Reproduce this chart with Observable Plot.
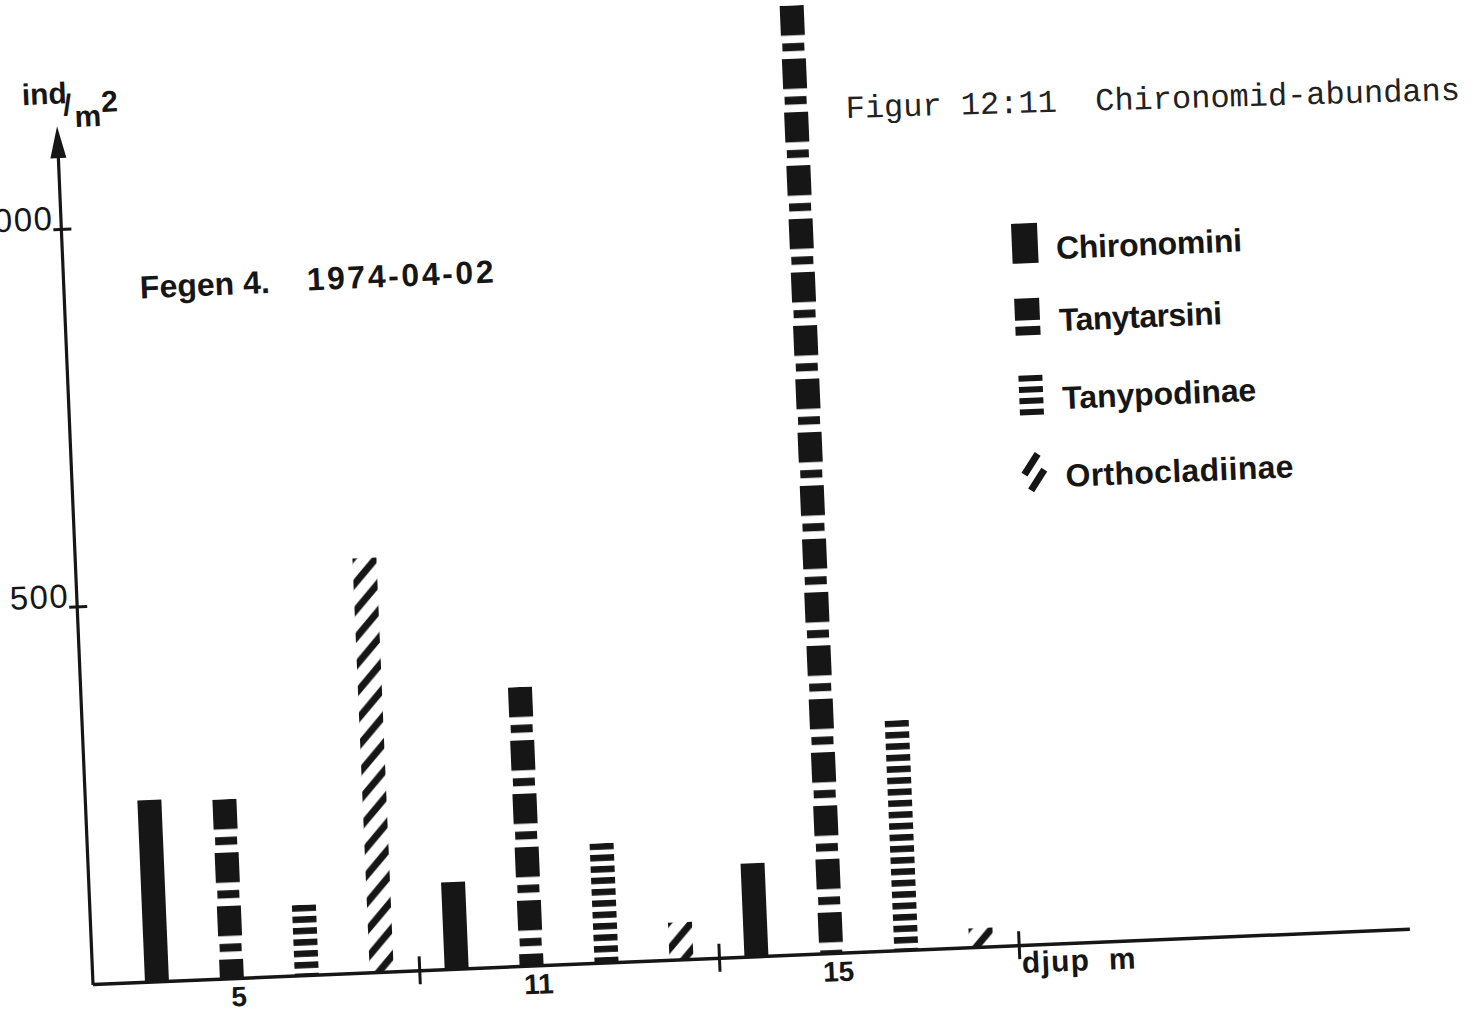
<!DOCTYPE html>
<html>
<head>
<meta charset="utf-8">
<script src="https://cdn.jsdelivr.net/npm/d3@7"></script>
<script src="https://cdn.jsdelivr.net/npm/@observablehq/plot@0.6"></script>
<style>
html, body { margin:0; padding:0; background:#fff; overflow:hidden; width:1479px; height:1011px; }
#wrap { position:absolute; left:0; top:0; width:1479px; height:1011px;
        transform-origin:93px 984px; transform:rotate(-2.4deg); }
#wrap svg { overflow:visible; max-width:none; background:transparent; }
#cap { position:absolute; left:846px; top:94px; font-family:'Liberation Mono', monospace;
       font-size:32px; line-height:32px; white-space:pre; color:#222;
       transform-origin:0 26px; transform:rotate(-1.7deg); }
</style>
</head>
<body>
<div id="wrap"></div>
<div id="cap">Figur 12:11  Chironomid-abundans</div>
<script>
// ---- data ----
const depths = ["5", "11", "15"];                 // djup m
const taxa = ["Chironomini", "Tanytarsini", "Tanypodinae", "Orthocladiinae"];
const chironomini    = [240, 115, 123];           // ind/m2
const tanytarsini    = [237, 369, 1255];
const tanypodinae    = [93, 158, 304];
const orthocladiinae = [548, 49, 25];
const yTicks = [500, 1000];
const yAxisTop = 1136;
const yMax = 1302;

const ink = "#161616";
const series = [chironomini, tanytarsini, tanypodinae, orthocladiinae];
const rows = [];
depths.forEach((d, i) => {
  taxa.forEach((t, j) => {
    rows.push({depth: d, taxon: t, key: d + "|" + t, value: series[j][i], idx: rows.length});
  });
});
const keys = rows.map(r => r.key);
const xRange = [119, 1019];
const step = (xRange[1] - xRange[0]) / keys.length;
const labelKeys = depths.map(d => d + "|Tanytarsini");
const boundKeys = depths.map(d => d + "|Orthocladiinae");

const plot = Plot.plot({
  width: 1479, height: 1011,
  marginLeft: 93, marginRight: 68, marginTop: 0, marginBottom: 27,
  style: {fontFamily: "'Liberation Sans', Arial, sans-serif", background: "transparent", overflow: "visible"},
  x: {type: "band", domain: keys, range: xRange, paddingInner: 0.68, paddingOuter: 0.34, axis: null},
  y: {domain: [0, yMax], axis: null},
  color: {type: "identity"},
  marks: [
    Plot.barY(rows, {x: "key", y: "value", fill: d => `url(#pat-${d.idx})`}),
    Plot.ruleY([0], {stroke: ink, strokeWidth: 3.5}),
    Plot.ruleX(boundKeys, {x: d => d, y1: 0, y2: 0, insetTop: -14, insetBottom: -14, dx: step / 2, stroke: ink, strokeWidth: 3}),
    Plot.axisY(yTicks, {anchor: "left", tickSize: 18, tickPadding: 0, dx: 10, fontSize: 33, color: ink, strokeWidth: 3, label: null, lineAnchor: "bottom"}),
    Plot.axisX(labelKeys, {anchor: "bottom", tickSize: 0, tickPadding: 8, dx: 6, fontSize: 28, fontWeight: "bold", color: ink, label: null, tickFormat: k => k.split("|")[0]})
  ]
});
document.getElementById("wrap").appendChild(plot);

// ---- patterns for each bar, anchored at the bar top ----
const svg = d3.select(plot);
svg.selectAll('g[aria-label="y-axis tick label"] text').attr("letter-spacing", 1.5);
const defs = svg.insert("defs", ":first-child");
svg.selectAll('g[aria-label="bar"] rect').each(function(_, i) {
  const r = d3.select(this);
  const bx = +r.attr("x"), by = +r.attr("y"), bw = +r.attr("width");
  const t = rows[i].taxon;
  const p = defs.append("pattern").attr("id", "pat-" + i).attr("patternUnits", "userSpaceOnUse")
    .attr("x", bx).attr("y", by).attr("width", bw);
  if (t === "Chironomini") {
    p.attr("height", 10);
    p.append("rect").attr("width", bw).attr("height", 10).attr("fill", ink);
  } else if (t === "Tanytarsini") {
    const P = 53.4;
    p.attr("height", P);
    p.append("rect").attr("x", 0).attr("y", 0).attr("width", bw).attr("height", 30).attr("fill", ink);
    p.append("rect").attr("x", 1).attr("y", 37.7).attr("width", bw - 2).attr("height", 8).attr("fill", ink);
  } else if (t === "Tanypodinae") {
    const P = 11.4;
    p.attr("height", P);
    p.append("rect").attr("x", 0).attr("y", 0).attr("width", bw).attr("height", 6.5).attr("fill", ink);
  } else {
    const P = 26.5, s = 1.1;
    p.attr("height", P);
    for (let k = -1; k <= 2; k++) {
      const y0 = k * P;
      p.append("line").attr("x1", -4).attr("y1", y0 + 4 * s).attr("x2", bw + 4).attr("y2", y0 - (bw + 4) * s)
        .attr("stroke", ink).attr("stroke-width", 7);
    }
  }
});

// ---- y axis line with arrow ----
const yS = plot.scale("y");
const ox = 93;
const y0px = yS.apply(0), yTip = yS.apply(yAxisTop);
const ann = svg.append("g").attr("fill", ink).attr("text-anchor", "start");
ann.append("line").attr("x1", ox).attr("x2", ox).attr("y1", y0px + 1).attr("y2", yTip + 20)
  .attr("stroke", ink).attr("stroke-width", 3.2);
ann.append("path").attr("d", `M${ox},${yTip} L${ox - 8},${yTip + 32} L${ox + 8},${yTip + 32} Z`);

// axis title ind/m2
const bold = {"font-family": "'Liberation Sans', Arial, sans-serif", "font-weight": "bold", "text-anchor": "start"};
function txt(g, s, x, y, size, opts = {}) {
  const t = g.append("text").attr("x", x).attr("y", y).attr("font-size", size).text(s);
  Object.entries({...bold, ...opts}).forEach(([k, v]) => t.attr(k, v));
  return t;
}
txt(ann, "ind", 59, 103, 30);
txt(ann, "/", 100, 115, 30);
txt(ann, "m", 111, 127, 30);
txt(ann, "2", 138, 113, 30);

// sample title
txt(ann, "Fegen 4.", 169, 301, 32, {textLength: 130, lengthAdjust: "spacing"});
txt(ann, "1974-04-02", 336, 300, 32, {textLength: 187, lengthAdjust: "spacing"});

// x axis title
txt(ann, "djup", 1022, 1012, 30, {textLength: 67, lengthAdjust: "spacing"});
txt(ann, "m", 1109, 1012, 30);

// ---- legend ----
const lg = svg.append("g").attr("text-anchor", "start");
const lx = 1055, ly = [283, 357, 434, 511], tx = 1086, tb = [300, 372, 450, 528];
const tl = [186, 163, 194, 228];
// Chironomini
lg.append("rect").attr("x", lx - 13).attr("y", ly[0] - 20).attr("width", 26).attr("height", 40).attr("fill", ink);
// Tanytarsini
lg.append("rect").attr("x", lx - 13).attr("y", ly[1] - 19).attr("width", 25).attr("height", 22).attr("fill", ink);
lg.append("rect").attr("x", lx - 13).attr("y", ly[1] + 9).attr("width", 25).attr("height", 9).attr("fill", ink);
// Tanypodinae
for (let k = 0; k < 4; k++) {
  lg.append("rect").attr("x", lx - 12).attr("y", ly[2] - 19 + k * 11.3).attr("width", 24).attr("height", 6).attr("fill", ink);
}
// Orthocladiinae
lg.append("line").attr("x1", lx - 10).attr("y1", ly[3] + 3).attr("x2", lx + 4).attr("y2", ly[3] - 17).attr("stroke", ink).attr("stroke-width", 7);
lg.append("line").attr("x1", lx - 4).attr("y1", ly[3] + 19).attr("x2", lx + 10).attr("y2", ly[3] - 1).attr("stroke", ink).attr("stroke-width", 7);
taxa.forEach((t, i) => {
  txt(lg, t, tx, tb[i], 32, {fill: ink, textLength: tl[i], lengthAdjust: "spacing"});
});
</script>
</body>
</html>
